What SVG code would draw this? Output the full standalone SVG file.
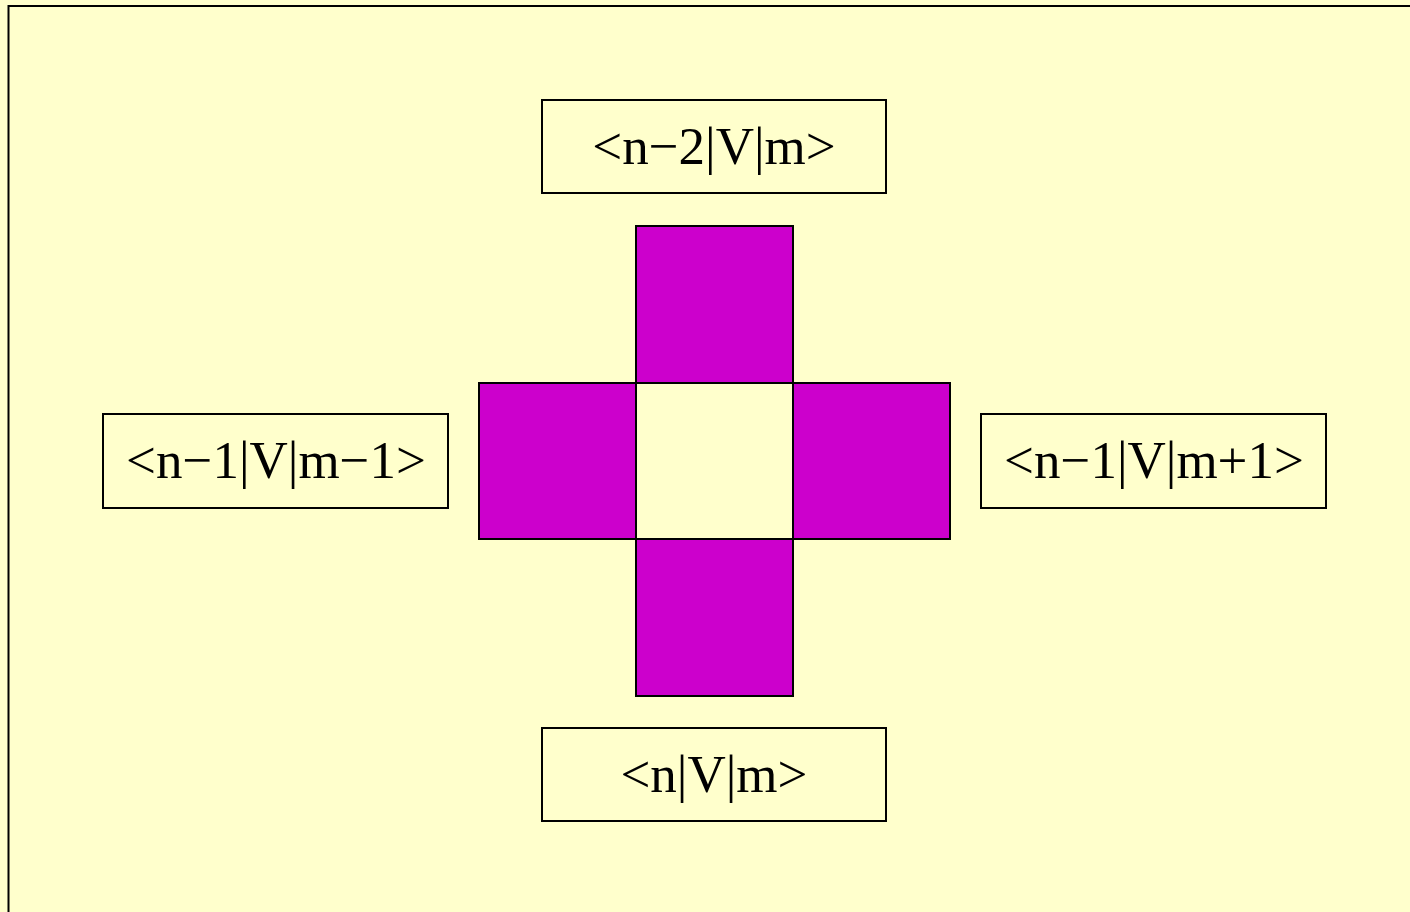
<svg xmlns="http://www.w3.org/2000/svg" width="1410" height="912" viewBox="0 0 1410 912">
<style>
.box{fill:#FFFFCC;stroke:#000;stroke-width:2}
.sq{fill:#CC00CC;stroke:#000;stroke-width:2}
.lbl{font-family:"Liberation Serif","Times New Roman",serif;font-size:53px;fill:#000;text-anchor:middle}
</style>
<rect x="0" y="0" width="1410" height="912" fill="#FFFFCC"/>
<rect x="8.5" y="6" width="1420" height="930" fill="#FFFFCC" stroke="#000" stroke-width="2"/>
<g id="cross">
<rect class="sq" x="636" y="226" width="157" height="157"/>
<rect class="sq" x="479" y="383" width="157" height="156"/>
<rect class="box" x="636" y="383" width="157" height="156"/>
<rect class="sq" x="793" y="383" width="157" height="156"/>
<rect class="sq" x="636" y="539" width="157" height="157"/>
</g>
<g id="top">
<rect class="box" x="542" y="100" width="344" height="93"/>
<text class="lbl" x="714" y="164">&lt;n−2|V|m&gt;</text>
</g>
<g id="left">
<rect class="box" x="103" y="414" width="345" height="94"/>
<text class="lbl" x="276" y="478">&lt;n−1|V|m−1&gt;</text>
</g>
<g id="right">
<rect class="box" x="981" y="414" width="345" height="94"/>
<text class="lbl" x="1154" y="478">&lt;n−1|V|m+1&gt;</text>
</g>
<g id="bottom">
<rect class="box" x="542" y="728" width="344" height="93"/>
<text class="lbl" x="714" y="792">&lt;n|V|m&gt;</text>
</g>
<g id="connectors"></g>
</svg>
